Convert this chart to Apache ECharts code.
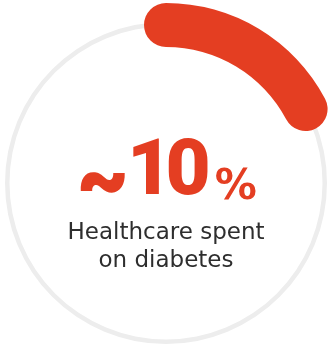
<!DOCTYPE html>
<html>
<head>
<meta charset="utf-8">
<style>
  html, body { margin: 0; padding: 0; background: #ffffff; }
  #chart { width: 333px; height: 347px; }
</style>
<script src="https://cdn.jsdelivr.net/npm/echarts@6/dist/echarts.min.js"></script>
</head>
<body>
<div id="chart"></div>
<script>
// Share of healthcare spending going to diabetes
const shareValue = 10;
const scaleMax = 58;          // full turn of the ring
const caption = ['Healthcare spent', 'on diabetes'];

const accent = '#e43e22';
const track = '#ededed';
const center = [166, 183];

// Big number: each digit gets its own token so the narrow "1" can sit tighter
function bigNumber(v) {
  const digits = String(v).split('').map(function (ch) {
    return ch === '1' ? '{one|1}' : '{big|' + ch + '}';
  }).join('');
  return '{tilde|~}' + digits + '{pct|%}';
}

const chart = echarts.init(document.getElementById('chart'), null, { renderer: 'canvas' });

const digitStyle = { color: accent, fontFamily: 'Roboto', fontWeight: 900, fontSize: 78, verticalAlign: 'bottom', lineHeight: 80 };

chart.setOption({
  animation: false,
  series: [
    {
      // thin background ring
      type: 'gauge',
      center: center,
      radius: 161,
      startAngle: 90,
      endAngle: -270,
      min: 0,
      max: scaleMax,
      silent: true,
      pointer: { show: false },
      progress: { show: false },
      axisLine: { lineStyle: { width: 4.5, color: [[1, track]] } },
      splitLine: { show: false },
      axisTick: { show: false },
      axisLabel: { show: false },
      title: { show: false },
      detail: { show: false },
      data: [{ value: 0 }]
    },
    {
      // thick rounded arc for the share
      type: 'gauge',
      center: center,
      radius: 180,
      startAngle: 90,
      endAngle: -270,
      min: 0,
      max: scaleMax,
      pointer: { show: false },
      progress: { show: true, width: 44, roundCap: true, itemStyle: { color: accent } },
      axisLine: { show: false },
      splitLine: { show: false },
      axisTick: { show: false },
      axisLabel: { show: false },
      title: {
        show: true,
        offsetCenter: [0, 64],
        color: '#2e2e2e',
        fontFamily: 'DejaVu Sans',
        fontSize: 23,
        lineHeight: 28
      },
      detail: {
        show: true,
        offsetCenter: [0, -10],
        formatter: bigNumber,
        rich: {
          tilde: { color: accent, fontFamily: 'Inter', fontWeight: 900, fontSize: 80, verticalAlign: 'middle', lineHeight: 30, padding: [18, 3, 0, 0] },
          one: Object.assign({}, digitStyle, { width: 32 }),
          big: digitStyle,
          pct: { color: accent, fontFamily: 'DejaVu Sans', fontWeight: 'bold', fontSize: 42, verticalAlign: 'bottom', lineHeight: 62, padding: [0, 0, 4, 4] }
        }
      },
      data: [{ value: shareValue, name: caption.join('\n') }]
    }
  ]
});
</script>
</body>
</html>
